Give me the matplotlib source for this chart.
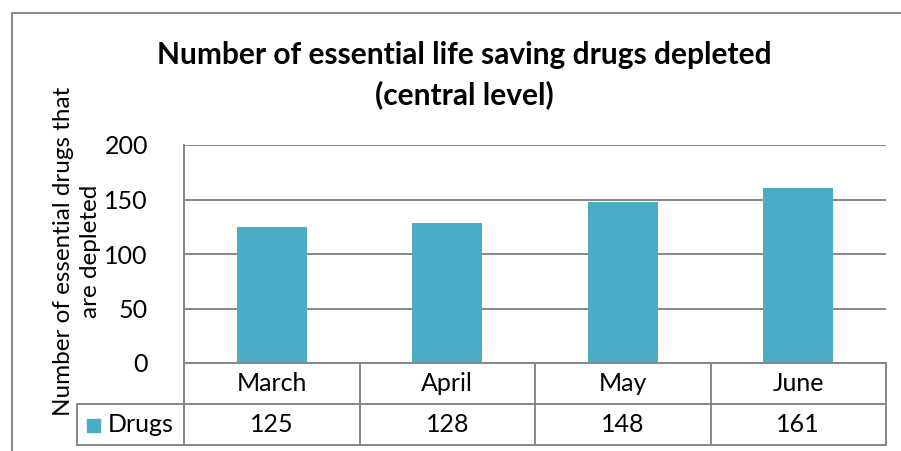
import matplotlib
matplotlib.use("Agg")
import matplotlib.pyplot as plt
from matplotlib.lines import Line2D
from matplotlib.patches import Rectangle

months = ["March", "April", "May", "June"]
drugs = [125, 128, 148, 161]
series_name = "Drugs"
yticks = [0, 50, 100, 150, 200]

W, H = 901, 451
bar_color = "#4BACC6"
grid_color = "#878787"
frame_color = "#8C8C8C"

plt.rcParams["font.family"] = ["Lato", "DejaVu Sans"]

fig = plt.figure(figsize=(W / 100, H / 100), dpi=100)


def fx(px):
    return px / W


def fy(py):
    return 1 - py / H


# plot area in pixels
left, right, top, bottom = 184, 886, 145, 363
ax = fig.add_axes([fx(left), fy(bottom), fx(right - left), (bottom - top) / H])
x = list(range(len(months)))
ax.bar(x, drugs, width=0.4, color=bar_color, zorder=3)
ax.set_xlim(-0.5, len(months) - 0.5)
ax.set_ylim(0, 200)
ax.set_yticks(yticks)
ax.set_xticks([])
ax.tick_params(axis="y", length=0, pad=26, labelsize=18)
ax.yaxis.grid(True, color=grid_color, linewidth=1.4, zorder=1)
for s in ["top", "right", "bottom"]:
    ax.spines[s].set_visible(False)
ax.spines["left"].set_color(grid_color)
ax.spines["left"].set_linewidth(1.4)

# y axis title, placed by hand so it can run down beside the table
fig.text(fx(77), fy(251), "Number of essential drugs that\nare depleted",
         rotation=90, ha="center", va="center", fontsize=17.5,
         linespacing=1.4, multialignment="center")

# data table below the plot
row1, row2, row3 = 363, 404, 445
col_w = (right - left) / len(months)
lines = []
lines.append(((left, right), (row1, row1)))
lines.append(((77, right), (row2, row2)))
lines.append(((77, right), (row3, row3)))
lines.append(((77, 77), (row2, row3)))
for i in range(len(months) + 1):
    cx = left + i * col_w
    lines.append(((cx, cx), (row1, row3)))
for xs, ys in lines:
    fig.add_artist(Line2D([fx(v) for v in xs], [fy(v) for v in ys],
                          color=grid_color, linewidth=1.4))

for i, (m, v) in enumerate(zip(months, drugs)):
    cx = left + (i + 0.5) * col_w
    fig.text(fx(cx), fy((row1 + row2) / 2), m, ha="center", va="center",
             fontsize=18)
    fig.text(fx(cx), fy((row2 + row3) / 2), str(v), ha="center",
             va="center", fontsize=18)

fig.add_artist(Rectangle((fx(87), fy(432)), fx(13), 13 / H,
                         color=bar_color))
fig.text(fx(108), fy((row2 + row3) / 2), series_name, ha="left",
         va="center", fontsize=18)

# title
fig.text(fx(464), fy(75), "Number of essential life saving drugs depleted\n(central level)",
         ha="center", va="center", fontsize=21.5, fontweight="bold",
         linespacing=1.45)

# outer chart frame
fig.add_artist(Line2D([fx(12), fx(12)], [fy(13), 0], color=frame_color,
                      linewidth=1.5))
fig.add_artist(Line2D([fx(12), 1], [fy(13), fy(13)], color=frame_color,
                      linewidth=1.5))

fig.savefig("out.png", dpi=100, facecolor="white")
